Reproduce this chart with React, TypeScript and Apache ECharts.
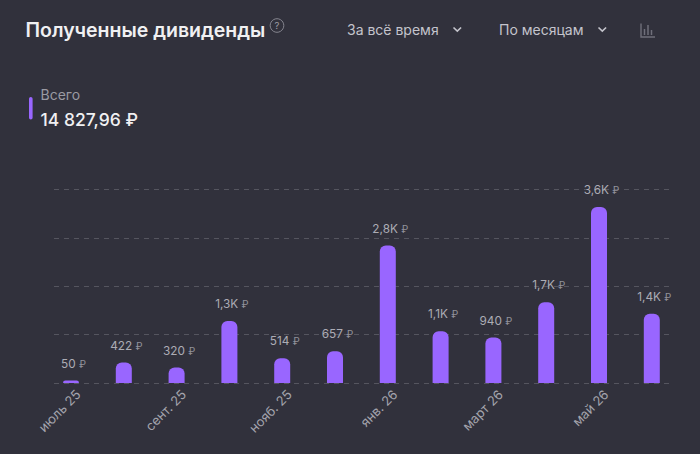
import React, { useEffect, useRef } from "react";
import * as echarts from "echarts";

const categories = ["июль 25", "авг. 25", "сент. 25", "окт. 25", "нояб. 25", "дек. 25", "янв. 26", "февр. 26", "март 26", "апр. 26", "май 26", "июнь 26"];
const dividends = [50, 422, 320, 1280, 514, 657, 2840, 1070, 940, 1670, 3640, 1430];
const titleText = "Полученные дивиденды";
const legendName = "Всего";
const totalText = "14 827,96 ₽";
const periodText = "За всё время";
const stepText = "По месяцам";

const FONT = "Inter, 'Liberation Sans', sans-serif";
const BG = "#31313c";
const VIOLET = "#9966ff";

const fmt = (v: number) => {
  if (v < 1000) return `{v|${v} }{r|₽}`;
  return `{v|${(v / 1000).toFixed(1).replace(".", ",")}K }{r|₽}`;
};

const chevron = (x: number, y: number) => ({
  type: "polyline",
  shape: { points: [[x, y], [x + 3.8, y + 3.6], [x + 7.6, y]] },
  style: { stroke: "#c4c4cc", lineWidth: 1.6, fill: "none" },
});

const iconBar = (x: number, y1: number, y2: number, stroke = "#6f6f7a", w = 1.5) => ({
  type: "line",
  shape: { x1: x, y1, x2: x, y2 },
  style: { stroke, lineWidth: w },
});

export default function App() {
  const ref = useRef<HTMLDivElement>(null);
  useEffect(() => {
    document.body.style.margin = "0";
    document.body.style.background = BG;
    const chart = echarts.init(ref.current!, undefined, { renderer: "svg" });
    chart.setOption({
      animation: false,
      backgroundColor: BG,
      grid: [
        { left: 44.6, width: 633.6, top: 189.5, height: 193.5 },
        { left: 54, width: 615, top: 189.5, height: 193.5 },
        { left: 51.6, width: 633.6, top: 189.5, height: 193.5 },
      ],
      xAxis: [
        { type: "category", gridIndex: 0, data: categories, show: false },
        { type: "value", gridIndex: 1, min: 0, max: 1, show: false },
        {
          type: "category",
          gridIndex: 2,
          data: categories,
          axisLine: { show: false },
          axisTick: { show: false },
          axisLabel: {
            interval: 1,
            rotate: 45,
            margin: 9,
            color: "#a4a4ad",
            fontSize: 13,
            fontFamily: FONT,
          },
        },
      ],
      yAxis: [
        { type: "value", gridIndex: 0, min: 0, max: 4000, interval: 1000, show: false },
        {
          type: "value",
          gridIndex: 1,
          min: 0,
          max: 4000,
          interval: 1000,
          axisLine: { show: false },
          axisTick: { show: false },
          axisLabel: { show: false },
          splitLine: { show: true, lineStyle: { color: "#55555f", type: [5, 5], width: 1 } },
        },
        { type: "value", gridIndex: 2, min: 0, max: 4000, interval: 1000, show: false },
      ],
      series: [
        {
          type: "bar",
          xAxisIndex: 0,
          yAxisIndex: 0,
          data: dividends,
          barWidth: 16,
          itemStyle: { color: VIOLET, borderRadius: [6, 6, 0, 0] },
          label: {
            show: true,
            position: "top",
            distance: 11,
            offset: [2.5, 0],
            formatter: (p: any) => fmt(p.value),
            rich: {
              v: { color: "#acacb5", fontSize: 11.8, fontFamily: FONT },
              r: { color: "#92929b", fontSize: 10, fontFamily: FONT },
            },
          },
        },
      ],
      graphic: [
        {
          type: "text",
          x: 25.5,
          y: 30,
          style: { text: titleText, fill: "#f0f0f2", fontSize: 19.5, fontWeight: 600, fontFamily: FONT, verticalAlign: "middle" },
        },
        { type: "circle", shape: { cx: 277, cy: 25.5, r: 6.8 }, style: { fill: "none", stroke: "#8f8f98", lineWidth: 0.9 } },
        {
          type: "text",
          x: 277,
          y: 25.7,
          style: { text: "?", fill: "#9a9aa3", fontSize: 9.5, fontFamily: FONT, align: "center", verticalAlign: "middle" },
        },
        { type: "rect", shape: { x: 29, y: 97, width: 3.6, height: 22.5, r: 1.8 }, style: { fill: VIOLET } },
        {
          type: "text",
          x: 40.5,
          y: 94.5,
          style: { text: legendName, fill: "#9a9aa3", fontSize: 14, fontFamily: FONT, verticalAlign: "middle" },
        },
        {
          type: "text",
          x: 40.5,
          y: 119,
          style: { text: totalText, fill: "#f0f0f2", fontSize: 17.5, fontWeight: 500, fontFamily: FONT, verticalAlign: "middle" },
        },
        {
          type: "text",
          x: 347,
          y: 29.5,
          style: { text: periodText, fill: "#c4c4cc", fontSize: 14, fontFamily: FONT, verticalAlign: "middle" },
        },
        chevron(453.5, 27.5),
        {
          type: "text",
          x: 499,
          y: 29.5,
          style: { text: stepText, fill: "#c4c4cc", fontSize: 14, fontFamily: FONT, verticalAlign: "middle" },
        },
        chevron(598.5, 27.5),
        {
          type: "polyline",
          shape: { points: [[641, 23.5], [641, 37], [655, 37]] },
          style: { stroke: "#6f6f7a", lineWidth: 1.4, fill: "none" },
        },
        iconBar(644.5, 29, 35),
        iconBar(648, 25, 35),
        iconBar(651.5, 30, 35),
      ],
    });
    return () => chart.dispose();
  }, []);
  return <div ref={ref} style={{ width: 700, height: 454 }} />;
}
